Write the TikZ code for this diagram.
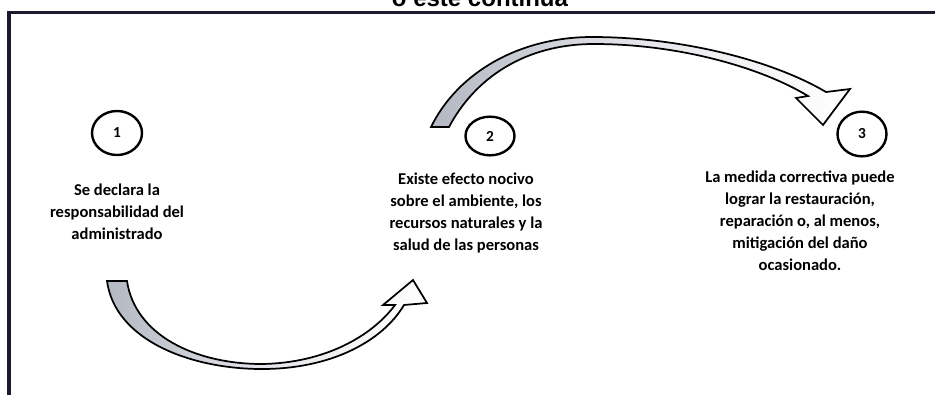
\documentclass[tikz,border=0pt]{standalone}
\usepackage{fontspec}
\setmainfont{Carlito}
\newfontfamily\titlefont{Liberation Sans}
\usetikzlibrary{shapes.geometric}
\definecolor{framecol}{HTML}{1C1B2E}
\definecolor{arrowgray}{HTML}{B4B8C2}
\begin{document}
\begin{tikzpicture}[x=0.75pt,y=-0.75pt,
  stagecirc/.style={draw=black, ellipse, line width=1.8pt, inner sep=0pt, font=\bfseries\fontsize{11.5}{14}\selectfont},
  stagetext/.style={align=center, font=\bfseries\fontsize{12.4}{16.5}\selectfont, inner sep=0pt},
  blockarrow/.style={draw=black, line width=1.3pt, line join=miter},
  titletext/.style={font=\titlefont\bfseries\fontsize{18}{20}\selectfont, inner sep=0pt, anchor=base},
  framestroke/.style={draw=framecol, line width=2.6pt}
]
\useasboundingbox (0,0) rectangle (935,394);
\fill[white] (0,0) rectangle (935,394);
\node[titletext] (title) at (480,6) {o este continúa};
\draw[framestroke] (9,400) -- (9,12.5) -- (945,12.5);

% top curved arrow (2 -> 3)
\draw[blockarrow, left color=arrowgray, right color=white, middle color=arrowgray!35!white]
  (431,127) .. controls (458,72) and (520,37) .. (592,37)
  .. controls (680,37) and (772,60) .. (826,92)
  -- (850,89) -- (823,125) -- (796,98) -- (808,96)
  .. controls (762,68) and (680,44) .. (594,44)
  .. controls (525,44) and (475,78) .. (449,127) -- cycle;

% bottom curved arrow (1 -> 2)
\draw[blockarrow, left color=arrowgray, right color=white, middle color=arrowgray!35!white]
  (107,281) .. controls (115,340) and (190,369) .. (262,369)
  .. controls (330,369) and (382,342) .. (404,305)
  -- (427,303) -- (413,280) -- (383,305) -- (395,305)
  .. controls (372,336) and (325,363) .. (262,364)
  .. controls (195,364) and (135,335) .. (127,281) -- cycle;

\node[stagecirc, minimum width=37.5pt, minimum height=33pt] (c1) at (117,133) {1};
\node[stagecirc, minimum width=36.75pt, minimum height=29pt] (c2) at (490,136) {2};
\node[stagecirc, minimum width=36.75pt, minimum height=33.5pt] (c3) at (862,134) {3};

\node[stagetext] (t1) at (117,212) {Se declara la\\responsabilidad del\\administrado};
\node[stagetext] (t2) at (466,213) {Existe efecto nocivo\\sobre el ambiente, los\\recursos naturales y la\\salud de las personas};
\node[stagetext] (t3) at (800,221) {La medida correctiva puede\\lograr la restauración,\\reparación o, al menos,\\mitigación del daño\\ocasionado.};
\end{tikzpicture}
\end{document}
